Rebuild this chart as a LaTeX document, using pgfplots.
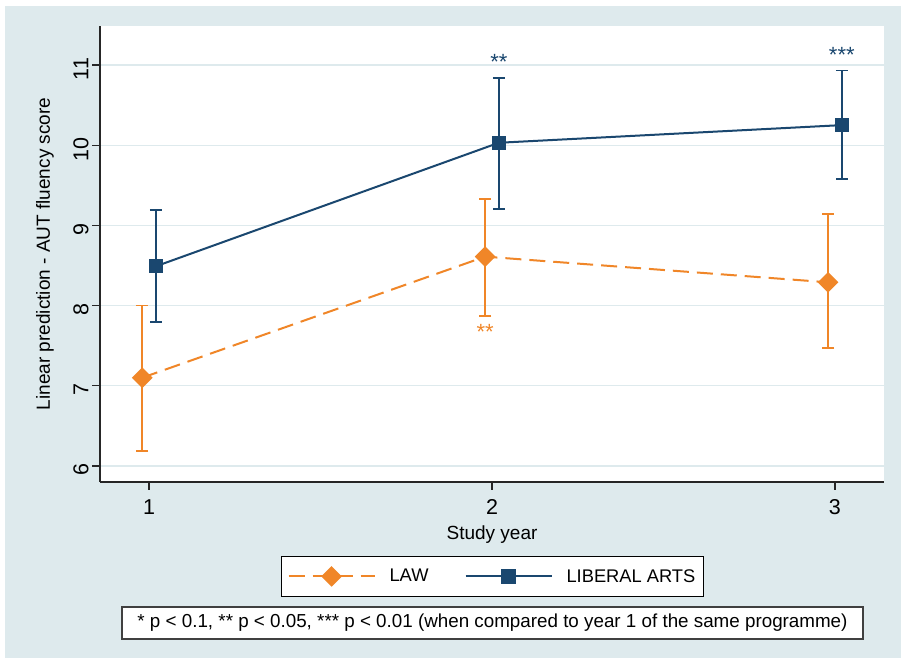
\documentclass[border=0pt]{standalone}
\usepackage{pgfplots}
\pgfplotsset{compat=1.18}
\usepackage{pgfplotstable}
\usepackage{fontspec}
\setmainfont{Liberation Sans}
\definecolor{bg}{RGB}{222,234,237}
\definecolor{gridc}{RGB}{222,234,237}
\definecolor{navy}{RGB}{26,71,111}
\definecolor{lawc}{RGB}{240,134,40}

\pgfplotstableread{
x y ep em
0.98 7.10 0.90 0.91
1.98 8.61 0.72 0.74
2.98 8.29 0.85 0.82
}\lawdata
\pgfplotstableread{
x y ep em
1.02 8.49 0.70 0.69
2.02 10.03 0.81 0.83
3.02 10.25 0.68 0.67
}\libdata

\begin{document}
\begin{tikzpicture}
\fill[white] (0,0) rectangle (901pt,658pt);
\fill[bg] (5pt,0) rectangle (901pt,652pt);
\begin{axis}[
  at={(100pt,176pt)}, anchor=south west, scale only axis,
  width=784pt, height=456pt,
  xmin=0.857, xmax=3.143, ymin=5.80, ymax=11.486,
  axis lines*=left,
  axis line style={line width=1.2pt, black!85},
  axis background/.style={fill=white},
  xtick={1,2,3}, ytick={6,7,8,9,10,11},
  tick align=outside, major tick length=8pt,
  tick style={line width=1.2pt, black!85},
  ymajorgrids, grid style={line width=1.2pt, gridc},
  /pgf/number format/assume math mode=true,
  ticklabel style={font=\fontsize{21.5}{24}\selectfont},
  xticklabel style={yshift=-6pt},
  yticklabel style={rotate=90, anchor=south, xshift=-4pt},
  xlabel={Study year},
  xlabel style={at={(axis description cs:0.5,-0.1155)}, anchor=center, font=\fontsize{19}{22}\selectfont},
  ylabel={Linear prediction - AUT fluency score},
  ylabel style={at={(axis description cs:-0.0702,0.5)}, anchor=center, font=\fontsize{19}{22}\selectfont},
  legend columns=2,
  legend style={at={(axis description cs:0.5006,-0.207)}, anchor=center,
    draw=black, line width=1.2pt, fill=white,
    font=\fontsize{18.3}{21}\selectfont,
    inner xsep=6pt, inner ysep=11pt,
    /tikz/every odd column/.append style={column sep=12pt},
    /tikz/every even column/.append style={column sep=34pt}},
  legend image code/.code={\draw[mark repeat=2,mark phase=2,#1] plot coordinates {(0pt,0pt) (43pt,0pt) (86pt,0pt)};},
]
\addplot[lawc, line width=2pt, dash pattern=on 16pt off 8pt,
  mark=square*, mark size=6.3pt, mark options={rotate=45, solid, fill=lawc},
  error bars/.cd, y dir=both, y explicit,
  error bar style={line width=1.8pt, solid, lawc},
  error mark options={rotate=90, mark size=6pt, line width=1.8pt, lawc, solid}]
  table[x=x, y=y, y error plus=ep, y error minus=em]{\lawdata};
\addlegendentry{LAW}
\addplot[navy, line width=2pt,
  mark=square*, mark size=6.2pt, mark options={solid, fill=navy},
  error bars/.cd, y dir=both, y explicit,
  error bar style={line width=1.8pt, solid, navy},
  error mark options={rotate=90, mark size=6pt, line width=1.8pt, navy, solid}]
  table[x=x, y=y, y error plus=ep, y error minus=em]{\libdata};
\addlegendentry{LIBERAL ARTS}
\node[navy, font=\fontsize{22}{24}\selectfont, yshift=-2pt] at (axis cs:2.02,11.06) {**};
\node[navy, font=\fontsize{22}{24}\selectfont, yshift=-2pt] at (axis cs:3.02,11.15) {***};
\node[lawc, font=\fontsize{22}{24}\selectfont, yshift=-2pt] at (axis cs:1.98,7.70) {**};
\end{axis}
\node[draw=black!75, line width=1.2pt, fill=white, minimum width=741pt, minimum height=32pt,
  inner sep=0pt, font=\fontsize{18.8}{21}\selectfont] at (492.5pt,35pt)
  {* p < 0.1, ** p < 0.05, *** p < 0.01 (when compared to year 1 of the same programme)};
\end{tikzpicture}
\end{document}
